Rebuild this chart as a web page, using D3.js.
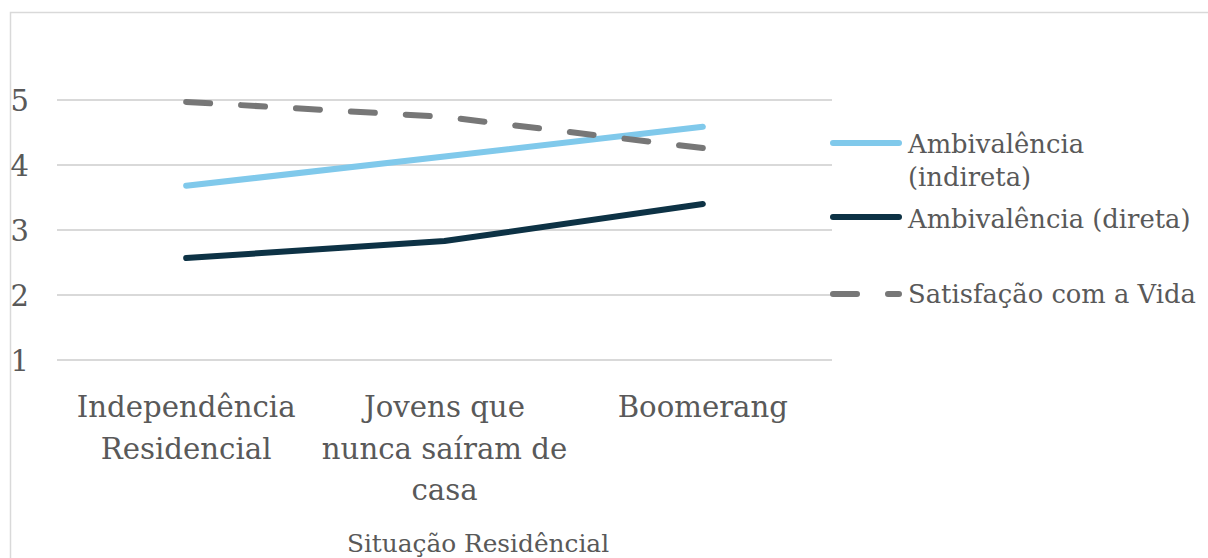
<!DOCTYPE html>
<html><head><meta charset="utf-8">
<script src="https://cdn.jsdelivr.net/npm/d3@7/dist/d3.min.js"></script>
<style>body{margin:0;background:#fff}svg{display:block}</style>
</head><body><svg id="c" width="1208" height="558"></svg>
<script>
const categories = [["Independência","Residencial"],["Jovens que","nunca saíram de","casa"],["Boomerang"]];
const categoryKeys = ["Independência Residencial","Jovens que nunca saíram de casa","Boomerang"];
const yTicks = [1,2,3,4,5];
const seriesNames = ["Ambivalência (indireta)","Ambivalência (direta)","Satisfação com a Vida"];
const indireta = [3.68, 4.13, 4.59];
const direta = [2.57, 2.83, 3.40];
const satisfacao = [4.97, 4.74, 4.26];
const xTitle = "Situação Residêncial";

const FONT = "'DejaVu Serif', serif";
const series = [
  {name: seriesNames[0], values: indireta, color: "#80c9eb", dash: null, legendLines: ["Ambivalência","(indireta)"]},
  {name: seriesNames[1], values: direta, color: "#0d3245", dash: null, legendLines: ["Ambivalência (direta)"]},
  {name: seriesNames[2], values: satisfacao, color: "#777777", dash: "24,31", legendLines: ["Satisfação com a Vida"]}
];

const svg = d3.select("#c");
svg.append("rect").attr("x",10.5).attr("y",12.5).attr("width",1300).attr("height",700)
  .attr("fill","none").attr("stroke","#d9d9d9").attr("stroke-width",1.5);

const x = d3.scaleBand().domain(categoryKeys).range([57,832]);
const y = d3.scaleLinear().domain([1,5]).range([360,100]);

svg.append("g").selectAll("line").data(yTicks).join("line")
  .attr("x1",57).attr("x2",832).attr("y1",d=>y(d)).attr("y2",d=>y(d))
  .attr("stroke","#d9d9d9").attr("stroke-width",2);

function txt(sel){ return sel.style("font-family",FONT).attr("fill","#595959"); }

txt(svg.append("g").selectAll("text").data(yTicks).join("text"))
  .attr("x",29).attr("y",d=>y(d)+11).attr("text-anchor","end")
  .attr("font-size",29).text(d=>d);

const cg = svg.append("g");
categories.forEach((lines,i)=>{
  const cx = x(categoryKeys[i]) + x.bandwidth()/2;
  const t = txt(cg.append("text")).attr("text-anchor","middle").attr("font-size",29.2)
    .attr("x", cx).attr("y",417);
  lines.forEach((l,j)=>t.append("tspan").attr("x", cx).attr("dy", j===0?0:41.5).text(l));
});

txt(svg.append("text")).attr("x",478).attr("y",552).attr("text-anchor","middle")
  .attr("font-size",24.8).text(xTitle);

const line = d3.line().x((d,i)=>x(categoryKeys[i]) + x.bandwidth()/2).y(d=>y(d));
series.forEach(s=>{
  svg.append("path").datum(s.values).attr("d",line).attr("fill","none")
    .attr("stroke",s.color).attr("stroke-width",6).attr("stroke-linecap","round")
    .attr("stroke-linejoin","round").attr("stroke-dasharray",s.dash);
});

const legY = [143,217,294];
const legTextY = [153,228,303];
series.forEach((s,i)=>{
  svg.append("line").attr("x1",833).attr("x2",899).attr("y1",legY[i]).attr("y2",legY[i])
    .attr("stroke",s.color).attr("stroke-width",6).attr("stroke-linecap","round")
    .attr("stroke-dasharray",s.dash);
  const t = txt(svg.append("text")).attr("x",908).attr("y",legTextY[i]).attr("font-size",25.8);
  s.legendLines.forEach((l,j)=>t.append("tspan").attr("x",908).attr("dy",j===0?0:33).text(l));
});
</script></body></html>
